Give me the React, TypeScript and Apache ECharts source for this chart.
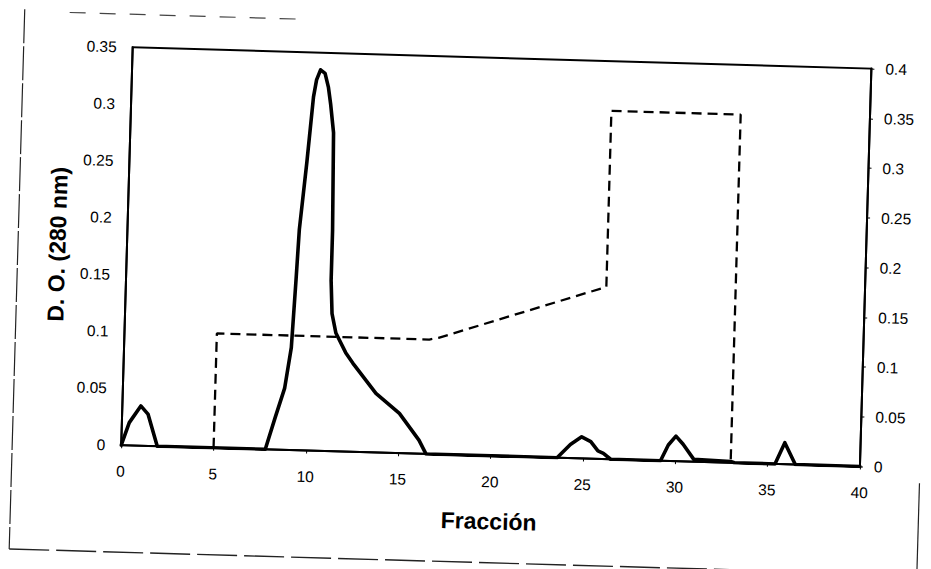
import React, { useEffect, useRef } from "react";
import * as echarts from "echarts";

// Absorbance (D.O. 280 nm) — solid line, left axis
const absFraction = [
  0, 0.4, 1, 1.4, 1.95, 7.8, 8.3, 8.75, 9.05, 9.2, 9.3, 9.6, 9.86, 10.0, 10.2, 10.45, 10.65, 10.8,
  11.0, 11.1, 11.1, 11.2, 11.44, 12.0, 12.4, 13.7, 15.0, 16.1, 16.5, 23.6, 24.3, 24.9, 25.4, 25.8,
  26.1, 26.5, 29.2, 29.6, 30.0, 30.4, 31.0, 33.0, 33.2, 35.4, 35.9, 36.5, 40,
];
const absValue = [
  0, 0.02, 0.035, 0.028, 0, 0, 0.029, 0.054, 0.09, 0.15, 0.194, 0.253, 0.311, 0.326, 0.335, 0.332,
  0.32, 0.305, 0.28, 0.194, 0.15, 0.121, 0.104, 0.087, 0.078, 0.052, 0.035, 0.012, 0, 0, 0.012,
  0.019, 0.015, 0.007, 0.005, 0, 0, 0.014, 0.022, 0.015, 0.002, 0.001, 0, 0, 0.019, 0, 0,
];

// Gradient — dashed line, right axis
const gradFraction = [5, 5, 16.5, 17, 26, 26, 33, 33];
const gradValue = [0, 0.115, 0.115, 0.117, 0.173, 0.35, 0.35, 0];

const xTicks = { min: 0, max: 40, interval: 5 };
const leftTicks = { min: 0, max: 0.35, interval: 0.05 };
const rightTicks = { min: 0, max: 0.4, interval: 0.05 };

const FONT = "Liberation Sans, Arial, sans-serif";

export default function App() {
  const ref = useRef<HTMLDivElement>(null);

  useEffect(() => {
    if (!ref.current) return;
    const chart = echarts.init(ref.current, null, { renderer: "svg" });
    const absData = absFraction.map((f, i) => [f, absValue[i]]);
    const gradData = gradFraction.map((f, i) => [f, gradValue[i]]);
    const labelStyle = { color: "#000", fontFamily: FONT, fontSize: 15.5 };
    const titleStyle = { fontFamily: FONT, fontWeight: "bold", fontSize: 23, color: "#000" };
    chart.setOption({
      animation: false,
      backgroundColor: "#fff",
      grid: {
        left: 126,
        right: 66,
        top: 57,
        bottom: 114,
        show: true,
        borderColor: "#000",
        borderWidth: 2,
        backgroundColor: "transparent",
      },
      xAxis: {
        type: "value",
        ...xTicks,
        name: "Fracción",
        nameLocation: "middle",
        nameGap: 54,
        nameTextStyle: titleStyle,
        axisLine: { show: true, lineStyle: { color: "#000", width: 2 } },
        axisTick: { show: true, length: 3, lineStyle: { color: "#000", width: 1 } },
        axisLabel: { ...labelStyle, margin: 18 },
        splitLine: { show: false },
      },
      yAxis: [
        {
          type: "value",
          ...leftTicks,
          name: "D. O. (280 nm)",
          nameLocation: "middle",
          nameGap: 58,
          nameTextStyle: titleStyle,
          axisLine: { show: true, lineStyle: { color: "#000", width: 2 } },
          axisTick: { show: false },
          axisLabel: { ...labelStyle, margin: 16 },
          splitLine: { show: false },
        },
        {
          type: "value",
          position: "right",
          ...rightTicks,
          axisLine: { show: true, lineStyle: { color: "#000", width: 2 } },
          axisTick: { show: true, length: 3, lineStyle: { color: "#000", width: 1 } },
          axisLabel: { ...labelStyle, margin: 14 },
          splitLine: { show: false },
        },
      ],
      series: [
        {
          type: "line",
          yAxisIndex: 0,
          data: absData,
          showSymbol: false,
          smooth: false,
          lineStyle: { color: "#000", width: 3.6, join: "round", cap: "round" },
          z: 3,
        },
        {
          type: "line",
          yAxisIndex: 1,
          data: gradData,
          showSymbol: false,
          smooth: false,
          lineStyle: { color: "#000", width: 2.3, type: [10, 6] },
          z: 2,
        },
      ],
      graphic: [
        {
          type: "line",
          shape: { x1: 17, y1: 22, x2: 17, y2: 562 },
          style: { stroke: "#222", lineWidth: 1.2, lineDash: [34, 3] },
          silent: true,
        },
        {
          type: "line",
          shape: { x1: 17, y1: 562, x2: 931, y2: 562 },
          style: { stroke: "#222", lineWidth: 1.4, lineDash: [40, 7] },
          silent: true,
        },
        {
          type: "line",
          shape: { x1: 925, y1: 470, x2: 925, y2: 569 },
          style: { stroke: "#222", lineWidth: 1.2 },
          silent: true,
        },
        {
          type: "line",
          shape: { x1: 62, y1: 24, x2: 300, y2: 24 },
          style: { stroke: "#444", lineWidth: 1.2, lineDash: [16, 14] },
          silent: true,
        },
      ],
    });
    return () => chart.dispose();
  }, []);

  return (
    <div
      style={{
        position: "absolute",
        left: 0,
        top: 0,
        width: 931,
        height: 569,
        background: "#fff",
      }}
    >
      <div
        ref={ref}
        style={{
          width: 931,
          height: 569,
          transform: "rotate(1.65deg)",
          transformOrigin: "50% 50%",
        }}
      />
    </div>
  );
}
